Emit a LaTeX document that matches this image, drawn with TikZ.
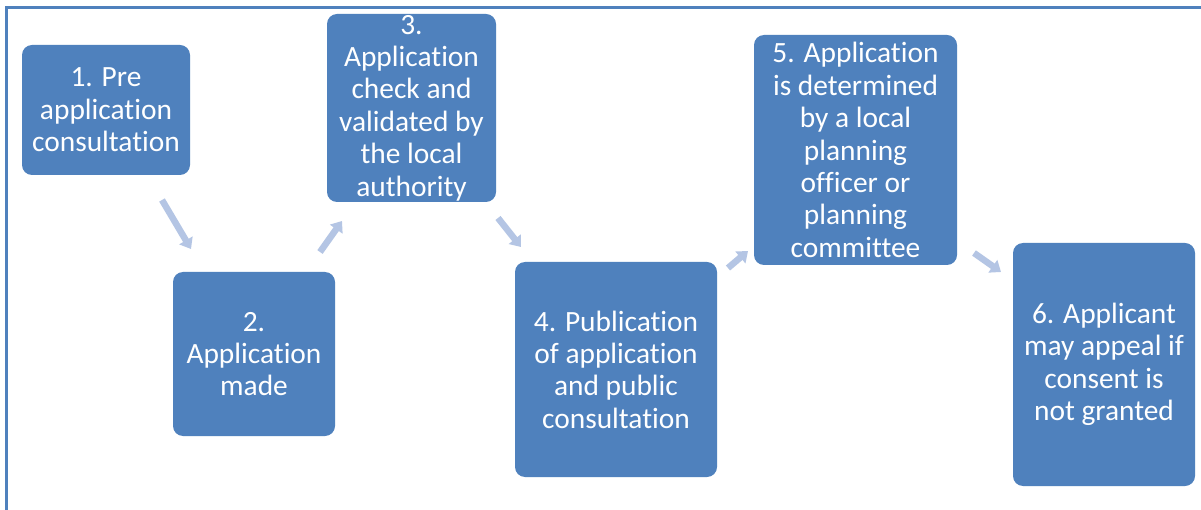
\documentclass[tikz,border=0pt]{standalone}
\usepackage{fontspec}
\setmainfont{Carlito}[Ligatures=NoCommon]
\usetikzlibrary{arrows.meta}
\definecolor{boxblue}{RGB}{79,129,189}
\definecolor{arrblue}{RGB}{180,197,228}
\begin{document}
\begin{tikzpicture}[x=1pt,y=-1pt,
  stepbox/.style={draw=none,fill=boxblue,rounded corners=10pt,text=white,align=center,
    font=\fontsize{29.4}{32.4}\selectfont,inner sep=0pt},
  arr/.style={draw=arrblue,line width=6.5pt,-{Triangle[width=15pt,length=10pt]}}]
\useasboundingbox (0,0) rectangle (1201,510);
\fill[white] (0,0) rectangle (1201,510);
\draw[boxblue,line width=3pt] (1201,8) -- (6.5,8) -- (6.5,510);
\node[stepbox,minimum width=168pt,minimum height=130pt] (b1) at (106,110) {1. Pre\\application\\consultation};
\node[stepbox,minimum width=162pt,minimum height=164pt] (b2) at (254,354) {2.\\Application\\made};
\node[stepbox,minimum width=169pt,minimum height=188pt] (b3) at (411.5,108) {3.\\Application\\check and\\validated by\\the local\\authority};
\node[stepbox,minimum width=202pt,minimum height=215pt] (b4) at (616,369.5) {4. Publication\\of application\\and public\\consultation};
\node[stepbox,minimum width=203pt,minimum height=230pt] (b5) at (855.5,150) {5. Application\\is determined\\by a local\\planning\\officer or\\planning\\committee};
\node[stepbox,minimum width=182pt,minimum height=243pt] (b6) at (1104,364.5) {6. Applicant\\may appeal if\\consent is\\not granted};
\coordinate (a1s) at (162,200); \coordinate (a1e) at (191,249);
\coordinate (a2s) at (320,252); \coordinate (a2e) at (342,221);
\coordinate (a3s) at (498,218); \coordinate (a3e) at (521,247);
\coordinate (a4s) at (728,268); \coordinate (a4e) at (748,251);
\coordinate (a5s) at (974,253); \coordinate (a5e) at (1001,272);
\draw[arr] (a1s) -- (a1e);
\draw[arr] (a2s) -- (a2e);
\draw[arr] (a3s) -- (a3e);
\draw[arr] (a4s) -- (a4e);
\draw[arr] (a5s) -- (a5e);
\end{tikzpicture}
\end{document}
